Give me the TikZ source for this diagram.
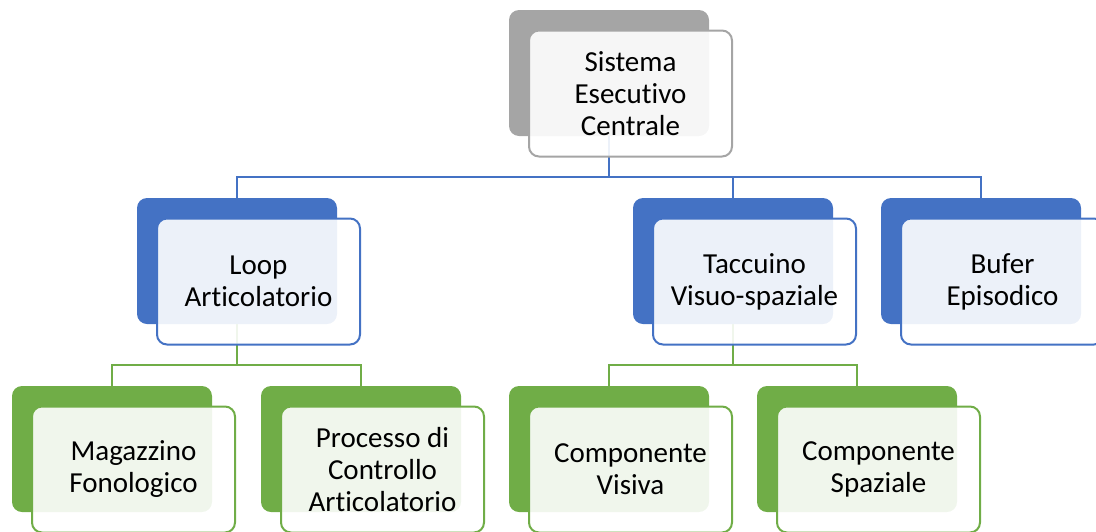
\documentclass[tikz,border=0pt]{standalone}
\usepackage{fontspec}
\setmainfont{Carlito}[Ligatures=NoCommon]
\usetikzlibrary{calc,backgrounds}
\definecolor{ngray}{HTML}{A5A5A5}
\definecolor{nblue}{HTML}{4472C4}
\definecolor{ngreen}{HTML}{70AD47}
\tikzset{
  backbox/.style={rectangle, rounded corners=10pt, minimum width=200pt,
    minimum height=126pt, inner sep=0pt, fill=#1, draw=none},
  frontbox/.style={rectangle, rounded corners=10pt, minimum width=203pt,
    minimum height=126pt, inner sep=0pt, draw=#1, line width=2pt,
    fill=white, fill opacity=0.9, text opacity=1, align=center,
    font=\fontsize{29}{32}\selectfont},
  link/.style={draw=#1, line width=2.3pt},
}
\begin{document}
\begin{tikzpicture}[x=1pt,y=-1pt]
  \clip (0,0) rectangle (1096,531);

  % back plates
  \node[backbox=ngray]  (top-b)  at (609,73)  {};
  \node[backbox=nblue]  (loop-b) at (237,261) {};
  \node[backbox=nblue]  (tac-b)  at (733,261) {};
  \node[backbox=nblue]  (buf-b)  at (981,261) {};
  \node[backbox=ngreen] (mag-b)  at (112,449) {};
  \node[backbox=ngreen] (proc-b) at (361,449) {};
  \node[backbox=ngreen] (vis-b)  at (609,449) {};
  \node[backbox=ngreen] (spa-b)  at (857,449) {};

  % front cards with the labels
  \node[frontbox=ngray]  (top-f)  at ($(top-b.center)+(21.5,20.5)$)  {Sistema\\Esecutivo\\Centrale};
  \node[frontbox=nblue]  (loop-f) at ($(loop-b.center)+(21.5,20.5)$) {Loop\\Articolatorio};
  \node[frontbox=nblue]  (tac-f)  at ($(tac-b.center)+(21.5,20.5)$)  {Taccuino\\Visuo-spaziale};
  \node[frontbox=nblue]  (buf-f)  at ($(buf-b.center)+(21.5,20.5)$)  {Bufer\\Episodico};
  \node[frontbox=ngreen] (mag-f)  at ($(mag-b.center)+(21.5,20.5)$)  {Magazzino\\Fonologico};
  \node[frontbox=ngreen] (proc-f) at ($(proc-b.center)+(21.5,20.5)$) {Processo di\\Controllo\\Articolatorio};
  \node[frontbox=ngreen] (vis-f)  at ($(vis-b.center)+(21.5,20.5)$)  {Componente\\Visiva};
  \node[frontbox=ngreen] (spa-f)  at ($(spa-b.center)+(21.5,20.5)$)  {Componente\\Spaziale};

  % connectors
  \begin{scope}[on background layer]
    \coordinate (bus1) at (0,177);
    \coordinate (bus2) at (0,365);
    \draw[link=nblue] (top-b.center) -- (top-b.center |- bus1);
    \draw[link=nblue] (loop-b.north) -- (loop-b.north |- bus1)
                      -- (buf-b.north |- bus1) -- (buf-b.north);
    \draw[link=nblue] (tac-b.north) -- (tac-b.north |- bus1);
    \draw[link=ngreen] (loop-b.center) -- (loop-b.center |- bus2);
    \draw[link=ngreen] (mag-b.north) -- (mag-b.north |- bus2)
                       -- (proc-b.north |- bus2) -- (proc-b.north);
    \draw[link=ngreen] (tac-b.center) -- (tac-b.center |- bus2);
    \draw[link=ngreen] (vis-b.north) -- (vis-b.north |- bus2)
                       -- (spa-b.north |- bus2) -- (spa-b.north);
  \end{scope}
\end{tikzpicture}
\end{document}
